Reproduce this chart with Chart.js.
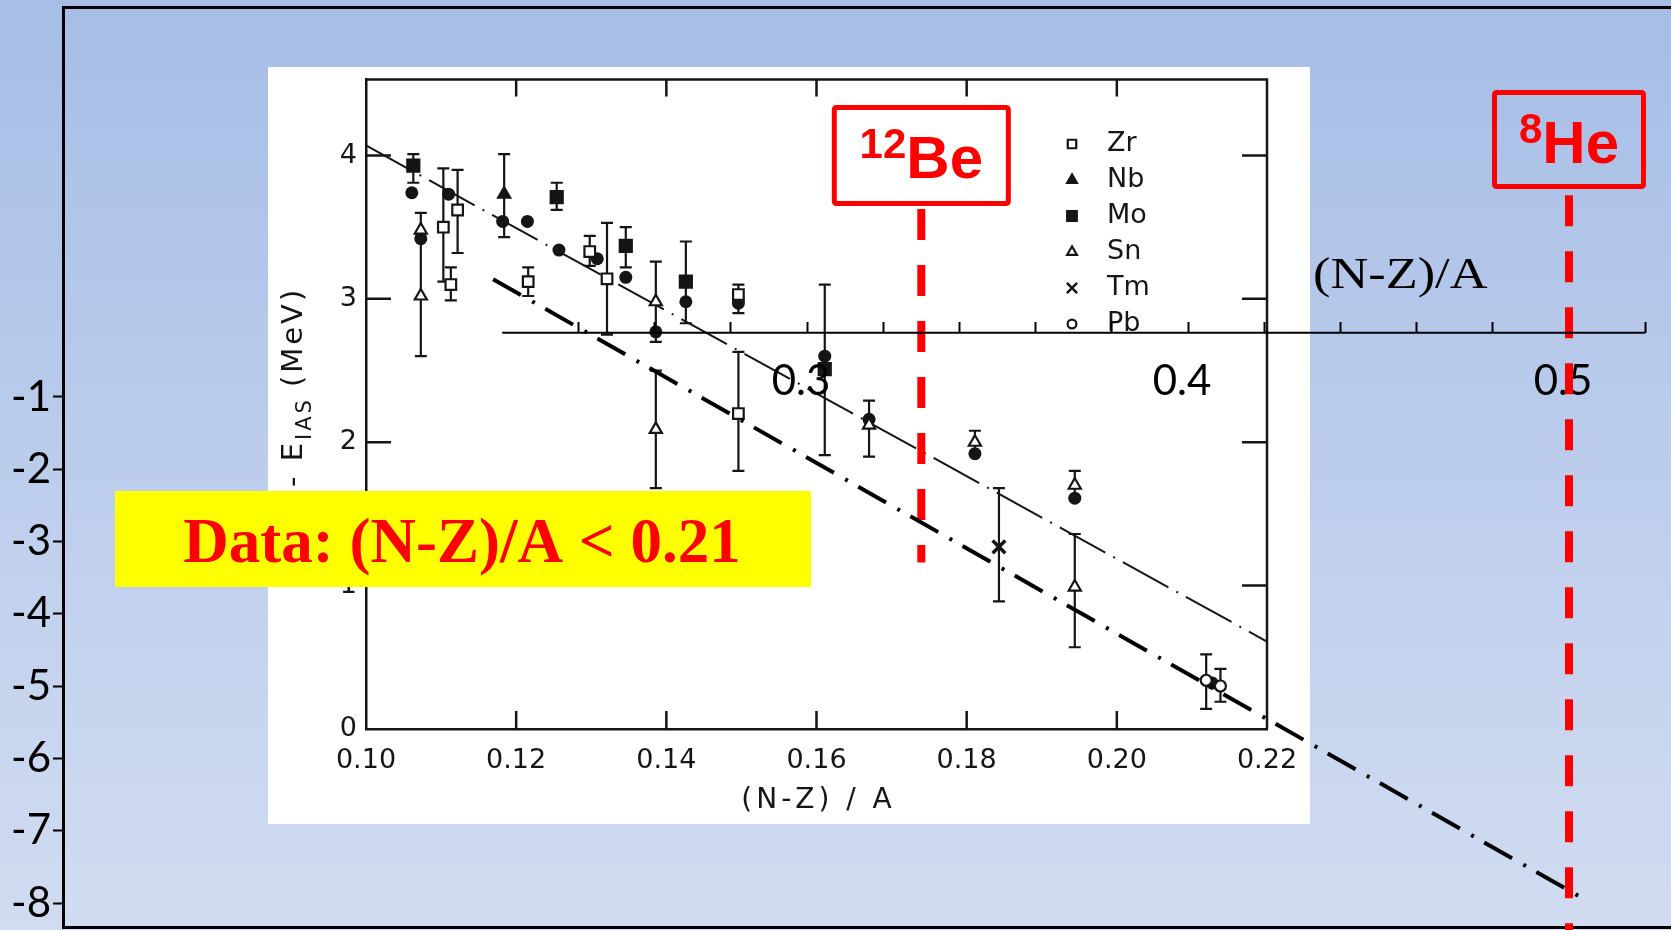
<!DOCTYPE html>
<html lang="en">
<head>
<meta charset="utf-8">
<title>Isobaric analog state energies vs (N-Z)/A</title>
<script src="https://cdn.jsdelivr.net/npm/chart.js@4.4.1/dist/chart.umd.min.js"></script>
<style>
  html, body { margin: 0; padding: 0; }
  body {
    position: relative;
    width: 1671px;
    height: 930px;
    overflow: hidden;
    background: linear-gradient(to bottom, #a6bde6 0%, #bccdec 50%, #d1dcf1 100%);
  }
  #scan { position: absolute; left: 268px; top: 67px; width: 1042px; height: 757px; background: #fff; }
  #scan canvas, #overlay { display: block; }
  #overlay { position: absolute; left: 0; top: 0; }
</style>
</head>
<body>
<div id="scan"><canvas id="inner" width="1042" height="757"></canvas></div>
<canvas id="overlay" width="1671" height="930"></canvas>
<script>
// measured -E_IAS (MeV) against (N-Z)/A, with lower/upper ends of the error bars
const zrX  = [0.1103, 0.1113, 0.1122, 0.1216, 0.1298, 0.1321, 0.1496, 0.1496];
const zrY  = [3.50, 3.10, 3.62, 3.12, 3.33, 3.14, 3.03, 2.20];
const zrLo = [3.12, 2.99, 3.32, 3.02, 3.23, 2.75, 2.90, 1.80];
const zrHi = [3.91, 3.22, 3.90, 3.22, 3.44, 3.53, 3.10, 2.63];

const nbX  = [0.1184];
const nbY  = [3.73];
const nbLo = [3.43];
const nbHi = [4.01];

const moX  = [0.1063, 0.1254, 0.1346, 0.1426, 0.1611];
const moY  = [3.93, 3.71, 3.37, 3.12, 2.51];
const moLo = [3.81, 3.62, 3.22, 2.83, 1.91];
const moHi = [4.01, 3.81, 3.50, 3.40, 3.10];

const snX  = [0.1073, 0.1073, 0.1386, 0.1386, 0.1670, 0.1811, 0.1944, 0.1944];
const snY  = [3.48, 3.02, 2.98, 2.09, 2.12, 2.00, 1.70, 0.99];
const snLo = [null, 2.60, 2.70, 1.68, 1.90, 1.92, 1.61, 0.57];
const snHi = [null, 3.60, 3.26, 2.50, 2.29, 2.08, 1.80, 1.36];

const tmX  = [0.1843];
const tmY  = [1.27];
const tmLo = [0.89];
const tmHi = [1.68];

const pbX  = [0.2119, 0.2138];
const pbY  = [0.34, 0.30];
const pbLo = [0.14, 0.19];
const pbHi = [0.52, 0.42];

// calculated values (filled circles, no legend entry)
const calcX = [0.1061, 0.1073, 0.1110, 0.1182, 0.1215, 0.1257, 0.1308, 0.1346,
               0.1386, 0.1426, 0.1496, 0.1611, 0.1670, 0.1811, 0.1944, 0.2127];
const calcY = [3.74, 3.42, 3.73, 3.54, 3.54, 3.34, 3.28, 3.15,
               2.77, 2.98, 2.97, 2.60, 2.16, 1.92, 1.61, 0.32];

// systematic trend through the heavy nuclei
const trendX = [0.10, 0.22];
const trendY = [4.07, 0.61];

// extrapolation towards the light neutron-rich nuclei (slide axes)
const extrapX = [0.2176, 0.5024];
const extrapY = [0.63, -7.90];

// light nuclei marked on the extended (N-Z)/A axis
const nucleusMass   = ['12', '8'];
const nucleusSymbol = ['Be', 'He'];
const nucleusX      = [0.33, 0.50];
const nucleusTop    = [1.60, 1.79];
const nucleusBottom = [-3.29, -8.45];

// ticks
const innerXTicks = [0.10, 0.12, 0.14, 0.16, 0.18, 0.20, 0.22];
const innerYTicks = [0, 1, 2, 3, 4];
const outerXRange = [0.22, 0.52];
const outerXTicks = [0.24, 0.26, 0.28, 0.30, 0.32, 0.34, 0.36, 0.38,
                     0.40, 0.42, 0.44, 0.46, 0.48, 0.50, 0.52];
const outerYTicks = [-1, -2, -3, -4, -5, -6, -7, -8];

const INK = '#151515';
const RED = '#ff0000';
const SANS = '"DejaVu Sans", sans-serif';
const AXIS_Y = -0.11;   // height of the extended (N-Z)/A axis on the slide scale

const pts = (xs, ys) => xs.map((x, i) => ({ x, y: ys[i] }));
const asTicks = vals => vals.map(value => ({ value }));
const noPad = s => { s.paddingTop = s.paddingBottom = s.paddingLeft = s.paddingRight = 0; };

function markers(label, xs, ys, lo, hi, style) {
    return Object.assign({
        label,
        data: pts(xs, ys),
        errLo: lo,
        errHi: hi,
        pointBorderColor: INK,
        pointBorderWidth: 2.2,
        pointBackgroundColor: INK
    }, style);
}

const scanSets = [
    markers('Zr', zrX, zrY, zrLo, zrHi, { pointStyle: 'rect', pointRadius: 7.5, pointBackgroundColor: '#fff' }),
    markers('Nb', nbX, nbY, nbLo, nbHi, { pointStyle: 'triangle', pointRadius: 7 }),
    markers('Mo', moX, moY, moLo, moHi, { pointStyle: 'rect', pointRadius: 8.5 }),
    markers('Sn', snX, snY, snLo, snHi, { pointStyle: 'triangle', pointRadius: 7, pointBackgroundColor: '#fff' }),
    markers('Tm', tmX, tmY, tmLo, tmHi, { pointStyle: 'crossRot', pointRadius: 9, pointBorderWidth: 3.5 }),
    markers('Pb', pbX, pbY, pbLo, pbHi, { pointStyle: 'circle', pointRadius: 5.5, pointBackgroundColor: '#fff' }),
    { label: 'calc', data: pts(calcX, calcY), pointStyle: 'circle', pointRadius: 6.5,
      pointBackgroundColor: INK, pointBorderColor: INK, pointBorderWidth: 0 },
    { label: 'trend', data: pts(trendX, trendY), showLine: true, borderColor: INK,
      borderWidth: 2, borderDash: [52, 9, 2, 9], pointRadius: 0 }
];
const legendNames = ['Zr', 'Nb', 'Mo', 'Sn', 'Tm', 'Pb'];

// closed frame with inward ticks on all four sides
const scanFrame = {
    id: 'scanFrame',
    beforeDatasetsDraw(chart) {
        const { ctx, chartArea: a, scales: { x, y } } = chart;
        ctx.save();
        ctx.strokeStyle = INK;
        ctx.lineWidth = 2.5;
        ctx.beginPath();
        ctx.moveTo(a.left, a.top);
        ctx.lineTo(a.right, a.top);
        ctx.lineTo(a.right, a.bottom);
        innerXTicks.slice(1, -1).forEach(v => {
            const px = x.getPixelForValue(v);
            ctx.moveTo(px, a.bottom); ctx.lineTo(px, a.bottom - 18);
            ctx.moveTo(px, a.top);    ctx.lineTo(px, a.top + 17);
        });
        innerYTicks.slice(1).forEach(v => {
            const py = y.getPixelForValue(v);
            ctx.moveTo(a.left, py);  ctx.lineTo(a.left + 25, py);
            ctx.moveTo(a.right, py); ctx.lineTo(a.right - 25, py);
        });
        ctx.stroke();
        ctx.restore();
    }
};

const errorBars = {
    id: 'errorBars',
    beforeDatasetsDraw(chart) {
        const { ctx, scales: { x, y } } = chart;
        const cap = 6;
        ctx.save();
        ctx.strokeStyle = INK;
        ctx.lineWidth = 2.2;
        chart.data.datasets.forEach(ds => {
            if (!ds.errLo) return;
            ds.data.forEach((p, i) => {
                if (ds.errLo[i] == null) return;
                const px = x.getPixelForValue(p.x);
                const lo = y.getPixelForValue(ds.errLo[i]);
                const hi = y.getPixelForValue(ds.errHi[i]);
                ctx.beginPath();
                ctx.moveTo(px, lo); ctx.lineTo(px, hi);
                ctx.moveTo(px - cap, lo); ctx.lineTo(px + cap, lo);
                ctx.moveTo(px - cap, hi); ctx.lineTo(px + cap, hi);
                ctx.stroke();
            });
        });
        ctx.restore();
    }
};

const scanLegend = {
    id: 'scanLegend',
    afterDatasetsDraw(chart) {
        const { ctx } = chart;
        ctx.save();
        ctx.textBaseline = 'middle';
        legendNames.forEach((name, i) => {
            const ds = chart.data.datasets.find(d => d.label === name);
            const y = 77 + i * 36;
            ctx.fillStyle = ds.pointBackgroundColor;
            ctx.strokeStyle = INK;
            ctx.lineWidth = Math.min(ds.pointBorderWidth, 2.5);
            Chart.helpers.drawPoint(ctx, {
                pointStyle: ds.pointStyle,
                radius: ds.pointRadius * 0.8,
                borderWidth: ctx.lineWidth,
                rotation: 0
            }, 804, y);
            ctx.fillStyle = INK;
            ctx.font = '27px ' + SANS;
            ctx.fillText(name, 839, y);
        });
        ctx.restore();
    }
};

const scanTitles = {
    id: 'scanTitles',
    afterDraw(chart) {
        const { ctx, chartArea: a } = chart;
        ctx.save();
        ctx.fillStyle = INK;
        ctx.font = '28px ' + SANS;
        ctx.letterSpacing = '4px';
        ctx.textAlign = 'center';
        ctx.textBaseline = 'middle';
        ctx.fillText('(N-Z) / A', (a.left + a.right) / 2 + 2, a.bottom + 72);

        // rotated -E_IAS (MeV)
        ctx.translate(34, 420);
        ctx.rotate(-Math.PI / 2);
        ctx.textAlign = 'left';
        ctx.textBaseline = 'alphabetic';
        ctx.letterSpacing = '3px';
        let cx = 0;
        ctx.font = '29px ' + SANS;
        ctx.fillText('- E', cx, 0);
        cx += ctx.measureText('- E').width;
        ctx.font = '21px ' + SANS;
        ctx.fillText('IAS', cx, 9);
        cx += ctx.measureText('IAS').width + 10;
        ctx.font = '29px ' + SANS;
        ctx.fillText('(MeV)', cx, 0);
        ctx.restore();
    }
};

// notes written on top of the slide: caption, axis name, nucleus tags
const slideNotes = {
    id: 'slideNotes',
    beforeDatasetsDraw(chart) {
        const { ctx } = chart;
        ctx.save();
        ctx.fillStyle = '#ffff00';
        ctx.fillRect(115, 491, 696, 96);
        ctx.fillStyle = RED;
        ctx.font = 'bold 63px "Liberation Serif", serif';
        ctx.textAlign = 'center';
        ctx.textBaseline = 'alphabetic';
        ctx.fillText('Data: (N-Z)/A < 0.21', 462, 562);
        ctx.restore();
    },
    afterDraw(chart) {
        const { ctx, scales: { x } } = chart;
        ctx.save();
        ctx.fillStyle = '#000';
        ctx.font = '44px "Liberation Serif", serif';
        ctx.textBaseline = 'alphabetic';
        ctx.translate(1313, 288);
        ctx.scale(1.19, 1);
        ctx.fillText('(N-Z)/A', 0, 0);
        ctx.restore();

        const tags = [
            { top: 107.5, w: 174, h: 96, base: 178 },
            { top: 92.5, w: 149, h: 94, base: 163 }
        ];
        nucleusX.forEach((v, i) => {
            const cx = x.getPixelForValue(v);
            const t = tags[i];
            ctx.save();
            ctx.strokeStyle = RED;
            ctx.lineWidth = 5;
            ctx.lineJoin = 'round';
            ctx.beginPath();
            ctx.roundRect(cx - t.w / 2, t.top, t.w, t.h, 2);
            ctx.stroke();
            ctx.fillStyle = RED;
            ctx.textAlign = 'left';
            ctx.textBaseline = 'alphabetic';
            ctx.font = 'bold 42px "Liberation Sans", sans-serif';
            const wm = ctx.measureText(nucleusMass[i]).width;
            ctx.font = 'bold 60px "Liberation Sans", sans-serif';
            const ws = ctx.measureText(nucleusSymbol[i]).width;
            const left = cx - (wm + ws) / 2;
            ctx.fillText(nucleusSymbol[i], left + wm, t.base);
            ctx.font = 'bold 42px "Liberation Sans", sans-serif';
            ctx.fillText(nucleusMass[i], left, t.base - 20);
            ctx.restore();
        });
    }
};

function build() {
    new Chart(document.getElementById('inner'), {
        type: 'scatter',
        data: { datasets: scanSets },
        options: {
            responsive: false,
            animation: false,
            devicePixelRatio: 1,
            events: [],
            layout: { padding: { top: 12, right: 43, bottom: 0, left: 0 } },
            plugins: { legend: { display: false }, tooltip: { enabled: false } },
            scales: {
                x: {
                    type: 'linear', min: 0.10, max: 0.22,
                    afterBuildTicks: s => { s.ticks = asTicks(innerXTicks); },
                    afterFit: s => { s.height = 95; noPad(s); },
                    grid: { display: false, drawTicks: false },
                    border: { color: INK, width: 2.5 },
                    ticks: {
                        padding: 16, color: INK, autoSkip: false, maxRotation: 0,
                        font: { family: SANS, size: 27 },
                        callback: v => v.toFixed(2)
                    }
                },
                y: {
                    type: 'linear', min: 0, max: 4.53,
                    afterBuildTicks: s => { s.ticks = asTicks(innerYTicks); },
                    afterFit: s => { s.width = 98; noPad(s); },
                    grid: { display: false, drawTicks: false },
                    border: { color: INK, width: 2.5 },
                    ticks: {
                        padding: 9, color: INK,
                        font: { family: SANS, size: 27 },
                        callback: v => String(v)
                    }
                }
            }
        },
        plugins: [scanFrame, errorBars, scanLegend, scanTitles]
    });

    const frameAxis = pos => ({
        type: 'linear', axis: 'x', position: pos,
        afterFit: s => { s.height = 0; noPad(s); },
        grid: { display: false, drawTicks: false },
        ticks: { display: false },
        border: { color: '#000', width: 3 }
    });

    new Chart(document.getElementById('overlay'), {
        type: 'scatter',
        data: {
            datasets: [
                { label: 'axis', data: outerXRange.map(x => ({ x, y: AXIS_Y })), showLine: true,
                  borderColor: '#000', borderWidth: 2, pointRadius: 0 },
                { label: 'extrapolation', data: pts(extrapX, extrapY), showLine: true,
                  borderColor: '#000', borderWidth: 4, borderDash: [32, 13, 3, 12], pointRadius: 0 },
                ...nucleusX.map((x, i) => ({
                    label: nucleusMass[i] + nucleusSymbol[i],
                    data: [{ x, y: nucleusTop[i] }, { x, y: nucleusBottom[i] }],
                    showLine: true, borderColor: RED, borderWidth: 8, borderDash: [31, 25],
                    pointRadius: 0, clip: false
                }))
            ]
        },
        options: {
            responsive: false,
            animation: false,
            devicePixelRatio: 1,
            events: [],
            layout: { padding: { top: 7, bottom: 3, left: 0, right: 0 } },
            plugins: { legend: { display: false }, tooltip: { enabled: false } },
            scales: {
                x: {
                    type: 'linear', min: 0.10472, max: 0.52677, position: { y: AXIS_Y },
                    afterBuildTicks: s => { s.ticks = asTicks(outerXTicks); },
                    afterFit: noPad,
                    border: { display: false },
                    grid: { drawOnChartArea: false, drawTicks: true, tickLength: -11, tickWidth: 2, color: '#000' },
                    ticks: {
                        padding: 35, labelOffset: -6, autoSkip: false, maxRotation: 0, minRotation: 0,
                        color: '#000', font: { family: 'Lato', size: 42 },
                        callback: v => {
                            const h = Math.round(v * 100);
                            return h % 10 === 0 ? (h / 100).toFixed(1) : '';
                        }
                    }
                },
                y: {
                    type: 'linear', position: 'left', min: -8.332, max: 4.395,
                    afterBuildTicks: s => { s.ticks = asTicks(outerYTicks); },
                    afterFit: s => { s.width = 63; noPad(s); },
                    border: { color: '#000', width: 3 },
                    grid: { drawOnChartArea: false, tickLength: 10, tickWidth: 2, color: '#000' },
                    ticks: {
                        padding: 2, color: '#000',
                        font: { family: 'Lato', size: 42 },
                        callback: v => String(v)
                    }
                },
                frameTop: frameAxis('top'),
                frameBottom: frameAxis('bottom')
            }
        },
        plugins: [slideNotes]
    });
}

const fontsUsed = ['42px Lato', '27px "DejaVu Sans"', 'bold 63px "Liberation Serif"',
                   '44px "Liberation Serif"', 'bold 60px "Liberation Sans"'];
Promise.all(fontsUsed.map(f => document.fonts.load(f))).then(build, build);
</script>
</body>
</html>
